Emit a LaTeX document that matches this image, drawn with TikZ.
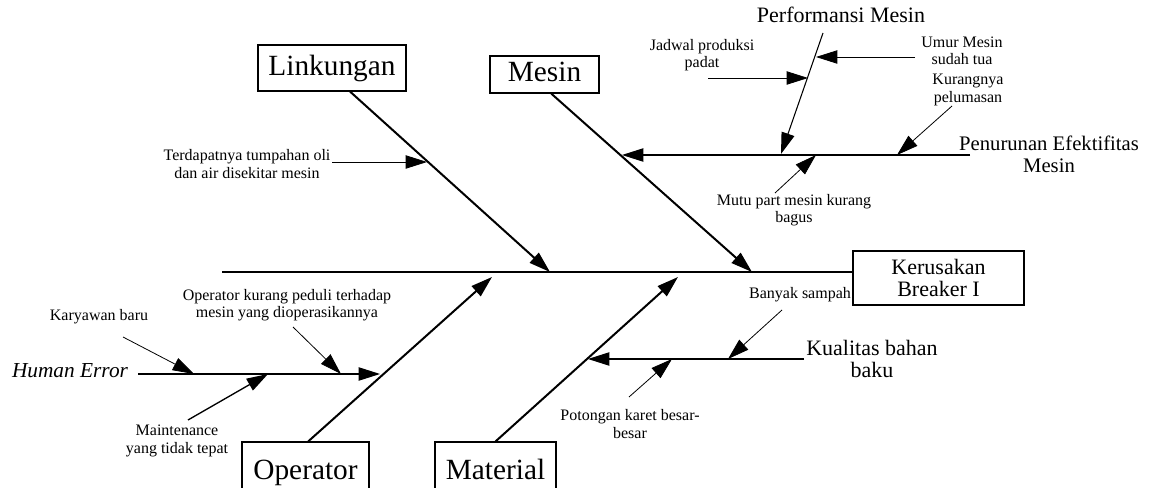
\documentclass[tikz,border=0pt]{standalone}
\usepackage{fontspec}
\setmainfont{Liberation Serif}
\usetikzlibrary{arrows.meta}
\begin{document}
\begin{tikzpicture}[x=0.75pt,y=-0.75pt,
  tip/.style={-{Triangle[length=16pt,width=10pt]}},
  spine/.style={line width=1.5pt},
  bone/.style={tip, line width=1.5pt},
  sub/.style={tip, line width=0.8pt},
  cause/.style={tip, line width=0.6pt},
  box/.style={draw, line width=0.8pt, inner sep=0pt, align=center},
  bigfont/.style={font=\fontsize{22}{24}\selectfont, text height=15.5pt, text depth=4.5pt},
  midfont/.style={font=\fontsize{16.5}{16.5}\selectfont},
  lbl/.style={align=center, inner sep=0pt, font=\fontsize{12}{13}\selectfont},
]
\path[use as bounding box, clip] (0,0) rectangle (1165,488);

% main boxes
\node[box, bigfont, minimum width=111pt, minimum height=34.5pt] (link) at (332,68) {Linkungan};
\node[box, bigfont, minimum width=81.75pt, minimum height=27.75pt] (mesin) at (544.5,74.5) {Mesin};
\node[box, bigfont, minimum width=95.25pt, minimum height=45pt] (oper) at (305.5,472) {Operator};
\node[box, bigfont, minimum width=90.75pt, minimum height=45pt] (mat) at (495.5,472) {Material};
\node[box, midfont, minimum width=128.25pt, minimum height=40.5pt] (head) at (938.5,278) {Kerusakan\\Breaker I};

% spine
\coordinate (tail) at (222,272);
\draw[spine] (tail) -- (tail -| head.west);

% bone tips
\coordinate (linktip) at (550,272);
\coordinate (mesintip) at (752,272);
\coordinate (opertip) at (492,277);
\coordinate (mattip) at (678,277);
\draw[bone] ([xshift=13.5pt]link.south) -- (linktip);
\draw[bone] ([xshift=5pt]mesin.south) -- (mesintip);
\draw[bone] ([xshift=2pt]oper.north) -- (opertip);
\draw[bone] (mat.north) -- (mattip);

% Linkungan cause
\node[lbl, font=\fontsize{12}{13.5}\selectfont] (tumpah) at (247,164) {Terdapatnya tumpahan oli\\dan air disekitar mesin};
\coordinate (tumpahS) at (332,162);
\coordinate (tumpahT) at (427,162);
\draw[cause] (tumpahS) -- (tumpahT);

% Mesin sub-bone
\node[align=center, inner sep=0pt, font=\fontsize{15.5}{16.5}\selectfont] (penurunan) at (1049,154) {Penurunan Efektifitas\\Mesin};
\coordinate (penS) at (970,155);
\coordinate (penT) at (622,155);
\draw[sub] (penS) -- (penT);

\node[inner sep=0pt, font=\fontsize{16.5}{17}\selectfont] (perf) at (841,15) {Performansi Mesin};
\coordinate (perfS) at (823,33);
\coordinate (perfT) at (781,154);
\draw[sub] (perfS) -- (perfT);

\node[lbl] (jadwal) at (702,55) {Jadwal produksi\\padat};
\coordinate (jadS) at (708,78);
\coordinate (jadT) at (808,78);
\draw[cause] (jadS) -- (jadT);

\node[lbl] (umur) at (962,51) {Umur Mesin\\sudah tua};
\coordinate (umurS) at (915,57);
\coordinate (umurT) at (816,57);
\draw[cause] (umurS) -- (umurT);

\node[lbl] (kurang) at (968,90) {Kurangnya\\pelumasan};
\coordinate (kurS) at (952,106);
\coordinate (kurT) at (897,155);
\draw[cause] (kurS) -- (kurT);

\node[lbl] (mutu) at (794,210) {Mutu part mesin kurang\\bagus};
\coordinate (mutuS) at (775,193);
\coordinate (mutuT) at (816,155);
\draw[cause] (mutuS) -- (mutuT);

% Operator sub-bone
\node[inner sep=0pt, font=\fontsize{16}{16}\selectfont\itshape] (human) at (70,371) {Human Error};
\coordinate (humS) at (138,374);
\coordinate (humT) at (380,374);
\draw[sub] (humS) -- (humT);

\node[lbl] (karyawan) at (99,317) {Karyawan baru};
\coordinate (karS) at (123,337);
\coordinate (karT) at (194,374);
\draw[cause] (karS) -- (karT);

\node[lbl] (peduli) at (287,305) {Operator kurang peduli terhadap\\mesin yang dioperasikannya};
\coordinate (pedS) at (293,327);
\coordinate (pedT) at (341,374);
\draw[cause] (pedS) -- (pedT);

\node[lbl] (maint) at (177,441) {Maintenance\\yang tidak tepat};
\coordinate (mainS) at (188,420);
\coordinate (mainT) at (268,374);
\draw[cause, line width=1pt] (mainS) -- (mainT);

% Material sub-bone
\node[align=center, inner sep=0pt, font=\fontsize{16.5}{16.5}\selectfont] (kualitas) at (872,359) {Kualitas bahan\\baku};
\coordinate (kualS) at (804,359);
\coordinate (kualT) at (588,359);
\draw[sub] (kualS) -- (kualT);

\node[lbl] (sampah) at (800,295) {Banyak sampah};
\coordinate (samS) at (782,310);
\coordinate (samT) at (728,359);
\draw[cause] (samS) -- (samT);

\node[lbl] (potong) at (630,424) {Potongan karet besar-\\besar};
\coordinate (potS) at (629,397);
\coordinate (potT) at (672,359);
\draw[cause] (potS) -- (potT);
\end{tikzpicture}
\end{document}
